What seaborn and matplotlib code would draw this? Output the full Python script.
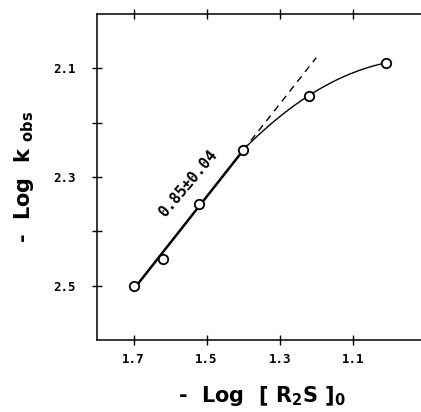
import numpy as np
import pandas as pd
import seaborn as sns
import matplotlib.pyplot as plt

sns.set_style('ticks')
plt.rcParams['font.family'] = ['DejaVu Sans']
plt.rcParams['mathtext.default'] = 'regular'
plt.rcParams.update({'text.color': 'black', 'axes.labelcolor': 'black',
                     'xtick.color': 'black', 'ytick.color': 'black',
                     'axes.edgecolor': 'black'})

# data
log_conc = [1.70, 1.62, 1.52, 1.40, 1.22, 1.01]   # - log [R2S]0
log_kobs = [2.50, 2.45, 2.35, 2.25, 2.15, 2.09]   # - log k_obs
n_fit = 4                       # first four points give the linear part
solid_x = [1.70, 1.40]          # extent of the fitted line
dash_x = [1.40, 1.20]           # extrapolated part
slope_text = '0.85\u00b10.04'

xticks = [1.7, 1.5, 1.3, 1.1]
yticks = [2.1, 2.2, 2.3, 2.4, 2.5]
ytick_labels = ['2.1', '', '2.3', '', '2.5']

df = pd.DataFrame({'x': log_conc, 'y': log_kobs})

# linear fit on low concentration points
coef = np.polyfit(df.x[:n_fit], df.y[:n_fit], 1)
fit_line = pd.DataFrame({'x': solid_x, 'y': np.polyval(coef, solid_x)})
dash_line = pd.DataFrame({'x': dash_x, 'y': np.polyval(coef, dash_x)})

# smooth curve through the saturating points
tail = df.iloc[n_fit - 1:]
qc = np.polyfit(tail.x, tail.y, 2)
xs = np.linspace(tail.x.max(), tail.x.min(), 60)
curve = pd.DataFrame({'x': xs, 'y': np.polyval(qc, xs)})

fig = plt.figure(figsize=(4.21, 4.12), dpi=100)
ax = fig.add_axes([0.2304, 0.1748, 0.781, 0.791])

sns.lineplot(data=fit_line, x='x', y='y', color='black', lw=1.8, sort=False, ax=ax)
sns.lineplot(data=dash_line, x='x', y='y', color='black', lw=1.0, sort=False,
             ax=ax, dashes=False, linestyle=(0, (5, 4)))
sns.lineplot(data=curve, x='x', y='y', color='black', lw=1.0, sort=False, ax=ax)
sns.scatterplot(data=df, x='x', y='y', marker='o', s=46, facecolor='white',
                edgecolor='black', linewidth=1.3, zorder=5, ax=ax)

ax.text(1.55, 2.313, slope_text, rotation=50, ha='center', va='center',
        family='DejaVu Sans Mono', fontsize=11, fontweight='bold')

ax.set_xlim(1.8, 0.9)
ax.set_ylim(2.6, 2.0)
ax.set_xticks(xticks)
ax.set_xticklabels([f'{t:.1f}' for t in xticks])
ax.set_yticks(yticks)
ax.set_yticklabels(ytick_labels)
ax.tick_params(direction='inout', length=7, width=1, top=True, right=False,
               labelsize=9, pad=6)
ax.tick_params(axis='y', pad=12)
for lab in ax.get_xticklabels() + ax.get_yticklabels():
    lab.set_family('DejaVu Sans Mono')
    lab.set_fontweight('bold')
for sp in ax.spines.values():
    sp.set_linewidth(1.1)
ax.spines['right'].set_visible(False)

ax.set_xlabel('-  Log  [ R$_2$S ]$_0$', fontsize=15, fontweight='bold', labelpad=13)
ax.set_ylabel('-  Log  k $_{obs}$', fontsize=15, fontweight='bold', labelpad=12)

fig.savefig('out.png', dpi=100)
